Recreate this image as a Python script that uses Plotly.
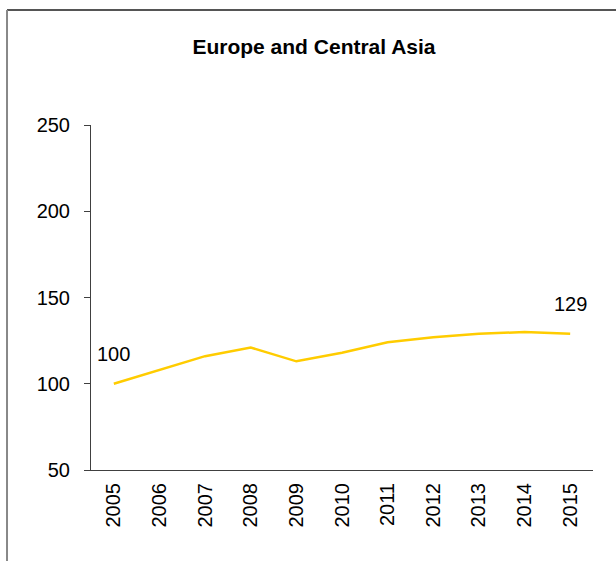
import plotly.graph_objects as go

years = ["2005", "2006", "2007", "2008", "2009", "2010", "2011", "2012", "2013", "2014", "2015"]
index_values = [100, 108, 116, 121, 113, 118, 124, 127, 129, 130, 129]
y_ticks = [50, 100, 150, 200, 250]
title_text = "Europe and Central Asia"

FONT = "Liberation Sans, Arial, sans-serif"

fig = go.Figure()
fig.add_trace(go.Scatter(
    x=years, y=index_values, mode="lines",
    line=dict(color="#FFCC00", width=2.5),
    hoverinfo="x+y", showlegend=False,
))

# labels for first and last values
for i in (0, len(years) - 1):
    fig.add_annotation(
        x=i, y=index_values[i], text=str(index_values[i]),
        xref="x", yref="y", showarrow=False, yshift=30,
        font=dict(family=FONT, size=20, color="#000"),
    )

# frame lines (top and left only, as in the source)
fig.add_shape(type="line", xref="paper", yref="paper",
              x0=-0.1673, x1=1.05, y0=1.3333, y1=1.3333,
              line=dict(color="#555555", width=2))
fig.add_shape(type="line", xref="paper", yref="paper",
              x0=-0.1673, x1=-0.1673, y0=1.3333, y1=-0.27,
              line=dict(color="#888888", width=2))

fig.update_layout(
    width=616, height=561,
    margin=dict(l=91, r=23, t=125, b=91),
    paper_bgcolor="white", plot_bgcolor="white",
    font=dict(family=FONT, size=20, color="#000"),
    title=dict(text="<b>" + title_text + "</b>", x=314 / 616, xanchor="center",
               y=1 - 47 / 561, yanchor="middle", yref="container",
               font=dict(size=21, color="#000")),
)
fig.update_xaxes(
    type="category", range=[-0.5, len(years) - 0.5],
    showline=True, linecolor="#404040", linewidth=1,
    showgrid=False, ticks="", tickangle=-90, ticklabelstandoff=4,
)
fig.update_yaxes(
    range=[50, 250], tickvals=y_ticks,
    showline=True, linecolor="#404040", linewidth=1,
    showgrid=False, zeroline=False, ticks="outside", ticklen=6,
    tickcolor="#404040", ticklabelstandoff=10,
)

fig.write_html("out.html", config={"displayModeBar": False},
               post_script="document.body.style.margin='0';")
